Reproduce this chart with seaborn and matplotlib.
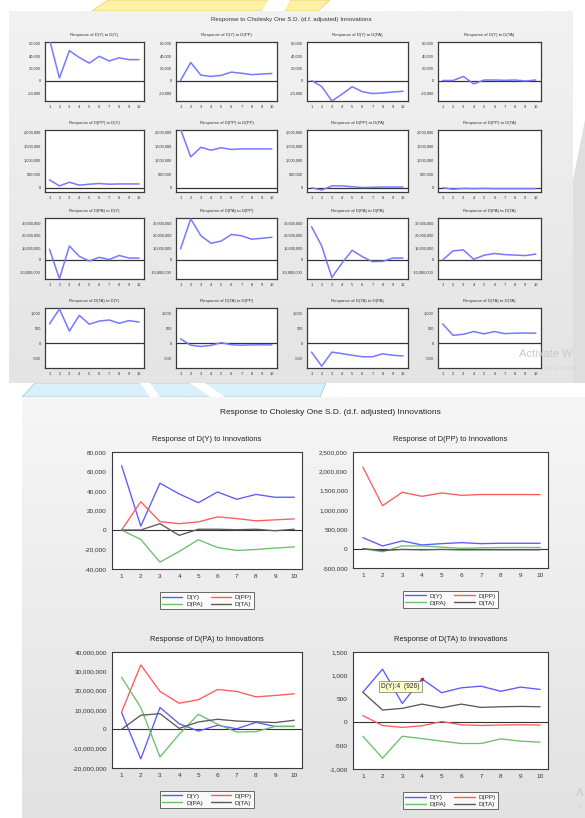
import numpy as np
import pandas as pd
import matplotlib
matplotlib.use("Agg")
import matplotlib.pyplot as plt
from matplotlib.patches import Polygon
from matplotlib.ticker import FuncFormatter, FixedLocator
import seaborn as sns

# ---------------- data ----------------
periods = list(range(1, 11))
variables = ["D(Y)", "D(PP)", "D(PA)", "D(TA)"]

# responses of D(Y)
y_to_y = [66000, 4000, 48000, 37000, 28000, 39000, 31500, 36500, 33600, 33600]
y_to_pp = [0, 29000, 8600, 6500, 8300, 13500, 11700, 9400, 10400, 11400]
y_to_pa = [0, -9700, -33000, -22000, -10000, -18000, -21000, -20000, -18500, -17300]
y_to_ta = [0, 0, 6500, -5500, 800, 800, 300, 800, -800, 800]

# responses of D(PP)
pp_to_y = [286000, 70000, 200000, 96000, 130000, 156000, 130000, 140000, 140000, 140000]
pp_to_pp = [2110000, 1112000, 1458000, 1354000, 1441000, 1380000, 1400000, 1400000, 1400000, 1398000]
pp_to_pa = [0, -80000, 70000, 70000, 40000, 10000, 20000, 30000, 30000, 30000]
pp_to_ta = [0, -50000, -20000, -30000, -20000, -30000, -30000, -30000, -30000, -30000]

# responses of D(PA)
pa_to_y = [8700000, -15300000, 11300000, 2900000, -900000, 2100000, 300000, 3600000, 1500000, 1500000]
pa_to_pp = [9000000, 33300000, 19600000, 13500000, 15300000, 20600000, 19600000, 16800000, 17500000, 18400000]
pa_to_pa = [26900000, 11300000, -14300000, -2600000, 7800000, 2600000, -1400000, -1200000, 1500000, 1500000]
pa_to_ta = [0, 7300000, 8100000, 500000, 3800000, 5200000, 4300000, 3900000, 3500000, 4700000]

# responses of D(TA)
ta_to_y = [640, 1134, 400, 926, 630, 735, 770, 660, 750, 700]
ta_to_pp = [141, -70, -111, -77, 14, -55, -70, -60, -55, -60]
ta_to_pa = [-300, -769, -300, -350, -405, -455, -455, -357, -405, -427]
ta_to_ta = [640, 260, 295, 386, 309, 386, 316, 330, 337, 330]

responses = [
    [y_to_y, y_to_pp, y_to_pa, y_to_ta],
    [pp_to_y, pp_to_pp, pp_to_pa, pp_to_ta],
    [pa_to_y, pa_to_pp, pa_to_pa, pa_to_ta],
    [ta_to_y, ta_to_pp, ta_to_pa, ta_to_ta],
]

main_title = "Response to Cholesky One S.D. (d.f. adjusted) Innovations"

# axis settings for the two charts
top_ylims = [(-33000, 62000), (-150000, 2080000), (-15500000, 34000000), (-830, 1170)]
top_yticks = [
    [-20000, 0, 20000, 40000, 60000],
    [0, 500000, 1000000, 1500000, 2000000],
    [-10000000, 0, 10000000, 20000000, 30000000],
    [-500, 0, 500, 1000],
]
bot_ylims = [(-40000, 80000), (-500000, 2500000), (-20000000, 40000000), (-1000, 1500)]
bot_yticks = [
    [-40000, -20000, 0, 20000, 40000, 60000, 80000],
    [-500000, 0, 500000, 1000000, 1500000, 2000000, 2500000],
    [-20000000, -10000000, 0, 10000000, 20000000, 30000000, 40000000],
    [-1000, -500, 0, 500, 1000, 1500],
]

series_colors = ["#5a5aff", "#ff5a5a", "#6cbf6c", "#5a5a5a"]

# ---------------- figure ----------------
sns.set_style("white")
plt.rcParams["font.family"] = ["Liberation Sans", "DejaVu Sans"]

W, H = 585, 818
fig = plt.figure(figsize=(W / 100, H / 100), dpi=100)
fig.patch.set_facecolor("white")

# background decoration axes in pixel coordinates
bg = fig.add_axes([0, 0, 1, 1], zorder=-10)
bg.axis("off")

bg.add_patch(Polygon([(92, 11), (108, 0), (330, 0), (318, 11)], closed=True,
                     facecolor="#fdf1a8", edgecolor="#e9d46a", lw=0.6))
bg.add_patch(Polygon([(262, 11), (268, 0), (290, 0), (284, 11)], closed=True,
                     facecolor="white", edgecolor="none"))
bg.add_patch(Polygon([(35, 383), (326, 383), (320, 397), (22, 397)], closed=True,
                     facecolor="#d9f0fa", edgecolor="#9fcde3", lw=0.6))
bg.add_patch(Polygon([(140, 383), (150, 383), (160, 397), (150, 397)], closed=True,
                     facecolor="white", edgecolor="none"))
bg.add_patch(Polygon([(190, 383), (205, 383), (225, 397), (210, 397)], closed=True,
                     facecolor="white", edgecolor="none"))
bg.add_patch(Polygon([(573, 180), (585, 120), (585, 383), (573, 383)], closed=True,
                     facecolor="#dedede", edgecolor="none"))

grad = np.linspace(0, 1, 256).reshape(-1, 1)
bg.imshow(grad, extent=[9, 573, 383, 11], cmap=matplotlib.colors.LinearSegmentedColormap.from_list(
    "g1", ["#f2f2f2", "#e4e4e4"]), aspect="auto", zorder=1)
bg.imshow(grad, extent=[22, 585, 818, 397], cmap=matplotlib.colors.LinearSegmentedColormap.from_list(
    "g2", ["#f6f6f6", "#e2e2e2"]), aspect="auto", zorder=1)
bg.set_xlim(0, W)
bg.set_ylim(H, 0)


def px_axes(x1, y1, x2, y2):
    return fig.add_axes([x1 / W, 1 - y2 / H, (x2 - x1) / W, (y2 - y1) / H])


fmt = FuncFormatter(lambda v, p: "{:,.0f}".format(v))


def style_axes(ax, xlim, ylim, yticks, fs, lw, ticklen):
    ax.set_facecolor("white")
    ax.set_xlim(*xlim)
    ax.set_ylim(*ylim)
    ax.set_yticks(yticks)
    ax.yaxis.set_major_formatter(fmt)
    ax.xaxis.set_major_locator(FixedLocator(periods))
    ax.set_xticklabels([str(p) for p in periods])
    ax.xaxis.set_minor_locator(FixedLocator([p + 0.5 for p in periods[:-1]]))
    ax.tick_params(axis="x", which="major", length=0, labelsize=fs, pad=ticklen + 1.5,
                   colors="#333333")
    ax.tick_params(axis="x", which="minor", length=ticklen, width=0.5, direction="out",
                   colors="#333333")
    ax.tick_params(axis="y", which="major", length=ticklen, width=0.5, direction="out",
                   labelsize=fs, pad=1.5, colors="#333333")
    for s in ax.spines.values():
        s.set_color("#3a3a3a")
        s.set_linewidth(lw)
    ax.axhline(0, color="#333333", lw=lw, zorder=1)
    ax.set_xlabel("")
    ax.set_ylabel("")


# ---------------- top chart: 4x4 grid ----------------
fig.text(291 / W, 1 - 19 / H, main_title, ha="center", va="center", fontsize=4.4, color="#333333")

cols = [(45, 144), (176, 277), (307, 408), (438, 541)]
rows = [(42, 101), (130, 192), (218, 279), (308, 368)]

for i, (y1, y2) in enumerate(rows):
    for j, (x1, x2) in enumerate(cols):
        ax = px_axes(x1, y1, x2, y2)
        sns.lineplot(x=periods, y=responses[i][j], color="#7878ff", lw=1.1, ax=ax, zorder=3)
        style_axes(ax, (0.55, 10.5), top_ylims[i], top_yticks[i], 2.9, 0.9, 1.5)
        ax.set_title(f"Response of {variables[i]} to {variables[j]}", fontsize=3.1,
                     color="#333333", pad=4)

fig.text(519 / W, 1 - 354 / H, "Activate W", fontsize=8, color="#c9c9c9", va="center")
fig.text(544 / W, 1 - 369 / H, "Go to Settin", fontsize=4.5, color="#d4d4d4", va="center")

# ---------------- bottom chart: 2x2 combined ----------------
fig.text(330 / W, 1 - 413 / H, main_title, ha="center", va="center", fontsize=6.0, color="#222222")

bpanels = [(112, 452, 302, 569), (353, 452, 548, 568), (112, 652, 302, 768), (353, 652, 548, 769)]

for k, (x1, y1, x2, y2) in enumerate(bpanels):
    ax = px_axes(x1, y1, x2, y2)
    df = pd.DataFrame({
        "period": periods * 4,
        "value": sum(responses[k], []),
        "shock": sum([[v] * len(periods) for v in variables], []),
    })
    sns.lineplot(data=df, x="period", y="value", hue="shock", hue_order=variables,
                 palette=series_colors, lw=0.95, ax=ax, legend=False, zorder=3)
    style_axes(ax, (0.5, 10.4), bot_ylims[k], bot_yticks[k], 4.6, 0.8, 2.2)
    ax.set_title(f"Response of {variables[k]} to Innovations", fontsize=5.4,
                 color="#222222", pad=8)
    handles = [plt.Line2D([], [], color=c, lw=1.0) for c in series_colors]
    order = [0, 2, 1, 3]
    leg = ax.legend([handles[o] for o in order], [variables[o] for o in order],
                    ncol=2, loc="upper center", bbox_to_anchor=(0.5, -0.17),
                    fontsize=4.6, frameon=True, fancybox=False, handlelength=3.2,
                    columnspacing=1.2, handletextpad=0.6, borderpad=0.35,
                    labelspacing=0.25, edgecolor="#444444")
    leg.get_frame().set_linewidth(0.7)
    leg.get_frame().set_facecolor("white")
    if k == 3:
        ax.plot([4], [926], marker="s", ms=2, color="#dd2222", zorder=5)
        ax.text(3.88, 760, "D(Y):4  (926)", ha="right", va="center", fontsize=4.8,
                color="#222222", zorder=6,
                bbox=dict(boxstyle="square,pad=0.3", facecolor="#ffffcc",
                          edgecolor="#777777", lw=0.5))

fig.text(576 / W, 1 - 793 / H, "A", fontsize=8, color="#c9c9c9", va="center")
fig.text(577 / W, 1 - 806 / H, "G", fontsize=5, color="#d0d0d0", va="center")

fig.savefig("out.png", dpi=100)
